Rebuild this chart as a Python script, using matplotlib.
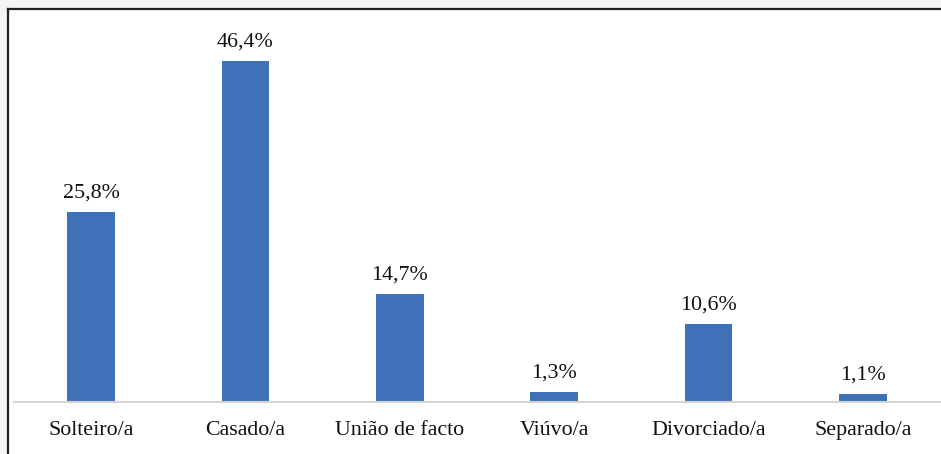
import matplotlib
matplotlib.use("Agg")
import matplotlib.pyplot as plt
from matplotlib.patches import Rectangle
from matplotlib.lines import Line2D

categories = ["Solteiro/a", "Casado/a", "União de facto", "Viúvo/a", "Divorciado/a", "Separado/a"]
values = [25.8, 46.4, 14.7, 1.3, 10.6, 1.1]
labels = ["25,8%", "46,4%", "14,7%", "1,3%", "10,6%", "1,1%"]

plt.rcParams['font.family'] = ['Liberation Serif', 'DejaVu Serif']

W, H = 941, 454
fig = plt.figure(figsize=(W / 100, H / 100), dpi=100)
fig.patch.set_facecolor("#f4f4f4")

# white page area with border on top/left
fig.patches.append(Rectangle((8 / W, 0), 1, 1 - 9 / H, transform=fig.transFigure,
                             facecolor="white", edgecolor="none", zorder=-5))
fig.add_artist(Line2D([8 / W, 1], [1 - 9 / H, 1 - 9 / H], transform=fig.transFigure,
                      color="#222222", lw=1.6, zorder=-4))
fig.add_artist(Line2D([8 / W, 8 / W], [0, 1 - 9 / H], transform=fig.transFigure,
                      color="#222222", lw=1.6, zorder=-4))

ax = fig.add_axes([14 / W, (H - 402) / H, 926 / W, 382 / H])
ax.set_zorder(5)
ax.set_facecolor("none")
x = range(len(categories))
bars = ax.bar(x, values, width=0.31, color="#3F71B9")
ax.set_xlim(-0.5, len(categories) - 0.5)
ax.set_ylim(0, 51.97)

for xi, v, lab in zip(x, values, labels):
    ax.annotate(lab, (xi, v), xytext=(0, 7), textcoords="offset points",
                ha="center", va="bottom", fontsize=15.8, color="#111111")

ax.set_xticks(list(x))
ax.set_xticklabels(categories, fontsize=15.8, color="#111111")
ax.tick_params(axis="x", length=0, pad=14)
ax.set_yticks([])
for s in ["top", "right", "left"]:
    ax.spines[s].set_visible(False)
ax.spines["bottom"].set_color("#d4d4d4")
ax.spines["bottom"].set_linewidth(1.5)

fig.savefig("out.png", dpi=100)
